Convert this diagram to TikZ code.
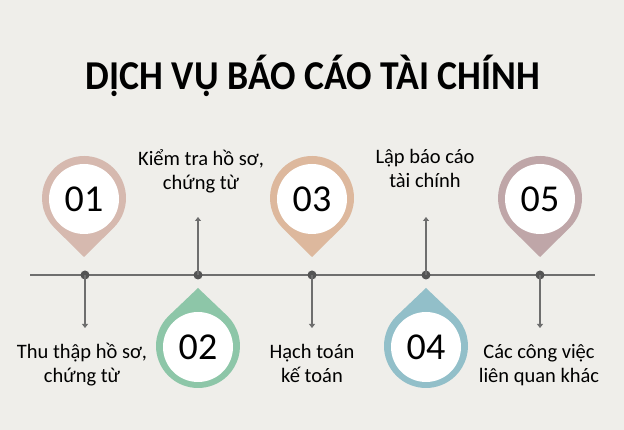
\documentclass[tikz,border=0pt]{standalone}
\usepackage{fontspec}
\setmainfont{Carlito}
\usepackage{tikz}
\usetikzlibrary{arrows.meta}

\definecolor{bgcol}{HTML}{EFEEEA}
\definecolor{pinone}{HTML}{D6B9AF}
\definecolor{pintwo}{HTML}{8DC6A8}
\definecolor{pinthree}{HTML}{DDB89D}
\definecolor{pinfour}{HTML}{92BFC9}
\definecolor{pinfive}{HTML}{BFA6A8}
\definecolor{linecol}{HTML}{6E6E6E}
\definecolor{dotcol}{HTML}{545454}

\begin{document}
\begin{tikzpicture}[x=1pt, y=1pt,
    dot/.style={circle, fill=dotcol, inner sep=0pt, minimum size=9pt},
    num/.style={circle, fill=white, inner sep=0pt, minimum size=70pt, font=\fontsize{38}{40}\selectfont},
    lbl/.style={align=center, anchor=base, font=\fontsize{20.5}{24}\selectfont},
    arr/.style={linecol, line width=1.2pt, -{Triangle[width=6pt,length=4pt]}}]
        \fill[bgcol] (0,0) rectangle (624,430);
        \useasboundingbox (0,0) rectangle (624,430);

        \node (title) at (313,340) [anchor=base, transform shape, xscale=0.92, font=\fontsize{41}{46}\selectfont\bfseries] {DỊCH VỤ BÁO CÁO TÀI CHÍNH};

        % pins
        \fill[pinone] (84,232) ++(-45.4:42) arc[start angle=-45.4, end angle=225.4, radius=42] -- (84,173) -- cycle;
        \fill[pintwo] (198,84) ++(134.6:42) arc[start angle=134.6, end angle=405.4, radius=42] -- (198,142) -- cycle;
        \fill[pinthree] (312,232) ++(-45.4:42) arc[start angle=-45.4, end angle=225.4, radius=42] -- (312,173) -- cycle;
        \fill[pinfour] (426,84) ++(134.6:42) arc[start angle=134.6, end angle=405.4, radius=42] -- (426,142) -- cycle;
        \fill[pinfive] (540,232) ++(-45.4:42) arc[start angle=-45.4, end angle=225.4, radius=42] -- (540,173) -- cycle;

        \node (n1) at (84,231) [num] {01};
        \node (n2) at (198,83) [num] {02};
        \node (n3) at (312,231) [num] {03};
        \node (n4) at (426,83) [num] {04};
        \node (n5) at (540,231) [num] {05};

        % timeline
        \coordinate (start) at (30,155);
        \coordinate (end) at (595,155);
        \draw[linecol, line width=1.5pt] (start) -- (end);

        \node (d1) at (85,155) [dot] {};
        \node (d2) at (198,155) [dot] {};
        \node (d3) at (312,155) [dot] {};
        \node (d4) at (426,155) [dot] {};
        \node (d5) at (540,155) [dot] {};

        \coordinate (e1) at (85,102);
        \coordinate (e2) at (198,213);
        \coordinate (e3) at (312,102);
        \coordinate (e4) at (426,213);
        \coordinate (e5) at (540,102);

        \draw[arr] (d1.center) -- (e1);
        \draw[arr] (d2.center) -- (e2);
        \draw[arr] (d3.center) -- (e3);
        \draw[arr] (d4.center) -- (e4);
        \draw[arr] (d5.center) -- (e5);

        % labels (base = last line)
        \node (l1) at (82,47) [lbl] {Thu thập hồ sơ,\\chứng từ};
        \node (l2) at (201,240) [lbl] {Kiểm tra hồ sơ,\\chứng từ};
        \node (l3) at (312,47) [lbl] {Hạch toán\\kế toán};
        \node (l4) at (425,242) [lbl] {Lập báo cáo\\tài chính};
        \node (l5) at (539,47) [lbl] {Các công việc\\liên quan khác};
\end{tikzpicture}
\end{document}
